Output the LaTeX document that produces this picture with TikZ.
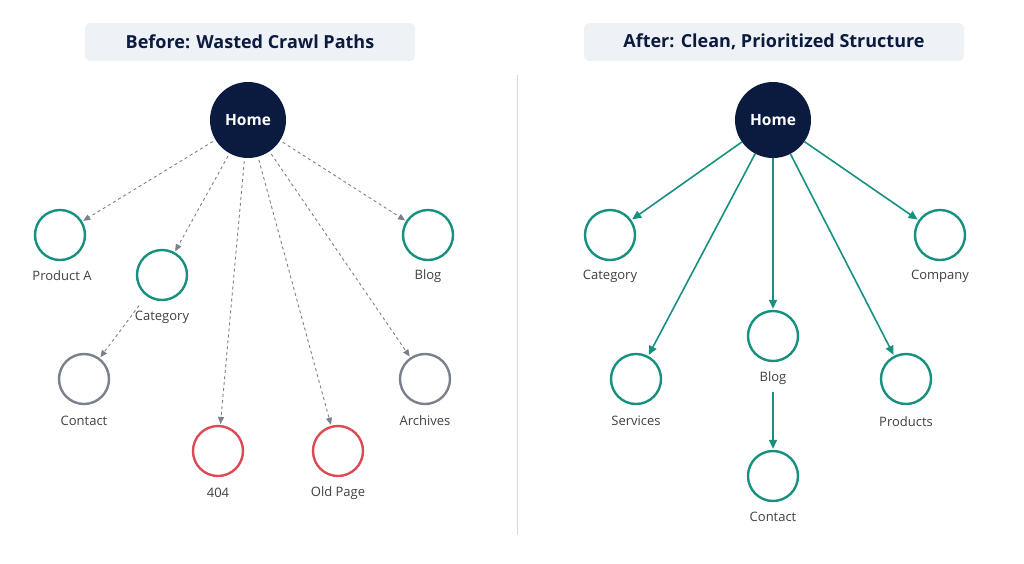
\documentclass[tikz,border=0pt]{standalone}
\usepackage{fontspec}
\setmainfont{Open Sans}
\usetikzlibrary{arrows.meta}
\definecolor{navy}{HTML}{0B1B3F}
\definecolor{tealc}{HTML}{17917F}
\definecolor{gry}{HTML}{7A808C}
\definecolor{redc}{HTML}{DC4B55}
\definecolor{ttl}{HTML}{EEF1F5}
\begin{document}
\begin{tikzpicture}[x=1pt,y=-1pt,
  home/.style={circle,fill=navy,minimum size=76pt,inner sep=0pt,text=white,font=\bfseries\fontsize{15.5}{18}\selectfont},
  nd/.style={circle,draw=#1,line width=2.4pt,minimum size=50pt,inner sep=0pt,fill=white},
  lbl/.style={font=\fontsize{13}{15}\selectfont,text=black!75},
  title/.style={rounded corners=6pt,fill=ttl,minimum height=38pt,font=\bfseries\fontsize{18}{21}\selectfont,text=navy},
  crawl/.style={draw=gry,dashed,line width=0.9pt,-{Triangle[length=7pt,width=6pt]},shorten >=1pt,shorten <=3pt},
  sol/.style={draw=tealc,line width=1.6pt,-{Triangle[length=9pt,width=8pt]},shorten >=1pt}]
\useasboundingbox (0,0) rectangle (1024,563);
\fill[white] (0,0) rectangle (1024,563);
\node[title,minimum width=330pt] (t1) at (250,42) {Before: Wasted Crawl Paths};
\node[title,minimum width=380pt] (t2) at (774,42) {After: Clean, Prioritized Structure};
\coordinate (d1) at (517,75); \coordinate (d2) at (517,535);
\draw[black!15,line width=1pt] (d1) -- (d2);
% left
\node[home] (h1) at (248,120) {Home};
\node[nd=tealc] (pa) at (60,235) {}; \node[lbl] at (62,276) {Product A};
\node[nd=tealc] (ca) at (162,275) {}; \node[lbl] at (162,317) {Category};
\node[nd=tealc] (bl) at (428,235) {}; \node[lbl] at (428,276) {Blog};
\node[nd=gry] (co) at (84,379) {}; \node[lbl] at (84,421) {Contact};
\node[nd=gry] (ar) at (425,379) {}; \node[lbl] at (425,421) {Archives};
\node[nd=redc] (e4) at (218,451) {}; \node[lbl] at (218,493) {404};
\node[nd=redc] (op) at (338,451) {}; \node[lbl] at (338,493) {Old Page};
\draw[crawl] (h1) -- (pa);
\draw[crawl] (h1) -- (ca);
\draw[crawl] (h1) -- (e4);
\draw[crawl] (h1) -- (op);
\draw[crawl] (h1) -- (ar);
\draw[crawl] (h1) -- (bl);
\draw[crawl,shorten <=12pt] (ca) -- (co);
% right
\node[home] (h2) at (773,120) {Home};
\node[nd=tealc] (rc) at (610,235) {}; \node[lbl] at (610,276) {Category};
\node[nd=tealc] (rm) at (940,235) {}; \node[lbl] at (940,276) {Company};
\node[nd=tealc] (rs) at (636,379) {}; \node[lbl] at (636,421) {Services};
\node[nd=tealc] (rb) at (773,336) {}; \node[lbl] at (773,378) {Blog};
\node[nd=tealc] (rp) at (906,379) {}; \node[lbl] at (906,422) {Products};
\node[nd=tealc] (rt) at (773,476) {}; \node[lbl] at (773,517) {Contact};
\draw[sol] (h2) -- (rc);
\draw[sol] (h2) -- (rm);
\draw[sol] (h2) -- (rs);
\draw[sol] (h2) -- (rb);
\draw[sol] (h2) -- (rp);
\draw[sol,shorten <=30pt] (rb) -- (rt);
\end{tikzpicture}
\end{document}
